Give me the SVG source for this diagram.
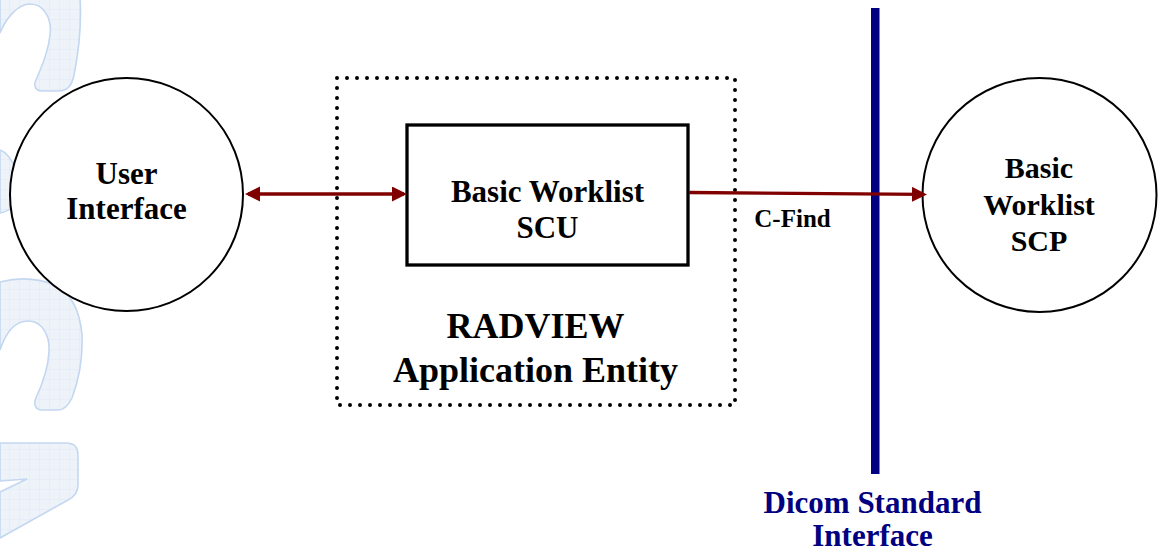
<svg xmlns="http://www.w3.org/2000/svg" width="1158" height="553" viewBox="0 0 1158 553" font-family="Liberation Serif, DejaVu Serif, serif">
  <defs>
    <style>
      .wm { fill: url(#grid); stroke: #C3D7F0; stroke-width: 1.6; }
      .node { fill: #FFFFFF; stroke: #000000; stroke-width: 2; }
      .box { fill: #FFFFFF; stroke: #000000; stroke-width: 3.3; }
      text { font-family: 'Liberation Serif', 'DejaVu Serif', serif; font-weight: 700; text-anchor: middle; }
      .blue { fill: #000080; }
      .conn { stroke: #800000; stroke-width: 3.3; fill: none; }
    </style>
    <pattern id="grid" patternUnits="userSpaceOnUse" width="10" height="10">
      <rect width="10" height="10" fill="#EEF3FA"/>
      <path d="M10,0 L10,10 M0,10 L10,10" stroke="#DCE6F4" stroke-width="0.7" fill="none"/>
    </pattern>
    <marker id="arr" markerUnits="userSpaceOnUse" markerWidth="16" markerHeight="16" refX="12" refY="7.5" orient="auto-start-reverse">
      <path d="M0,0 L15,7.5 L0,15 Z" fill="#800000"/>
    </marker>
  </defs>

  <rect width="1158" height="553" fill="#FFFFFF"/>

  <g id="watermark">
    <path class="wm" d="M0,-2 L80,-2 C82,30 78,55 74,75 C72,85 68,91 58,91 L42,91 C36,91 33,86 36,80 C40,70 48,55 50,35 C52,20 45,4 30,4 C18,4 6,18 0,33 Z"/>
    <path class="wm" d="M0,150 C6,152 12,160 16,170 L16,205 C10,210 5,212 0,213 Z"/>
    <path class="wm" d="M0,282 C15,278 35,277 55,285 C70,292 80,310 82,335 C83,360 78,382 72,398 C68,406 64,410 58,410 L42,410 C36,410 33,405 36,398 C42,385 48,370 49,352 C50,335 42,321 28,321 C15,321 6,332 0,350 Z"/>
    <path class="wm" d="M0,443 L66,443 Q78,443 78,455 L78,485 Q78,495 68,500 L0,538 L0,492 L27,479 L0,481 Z"/>
  </g>

  <g id="dicom-interface">
    <rect x="871" y="8" width="8.5" height="466" class="blue"/>
    <text x="872.5" y="513" font-size="31" fill="#000080">Dicom Standard</text>
    <text x="872.5" y="546" font-size="31" fill="#000080">Interface</text>
  </g>

  <g id="application-entity">
    <rect x="337" y="78" width="398" height="327" fill="none" stroke="#000000" stroke-width="4" stroke-dasharray="0 10" stroke-linecap="round"/>
    <text x="535.5" y="338" font-size="36">RADVIEW</text>
    <text x="535.5" y="382" font-size="36">Application Entity</text>
  </g>

  <g id="user-interface">
    <circle cx="126.5" cy="194.5" r="116.5" class="node"/>
    <text x="126.5" y="184" font-size="31">User</text>
    <text x="126.5" y="219" font-size="31">Interface</text>
  </g>

  <g id="worklist-scu">
    <rect x="407" y="125" width="281" height="140" class="box"/>
    <text x="547.5" y="202" font-size="31">Basic Worklist</text>
    <text x="547.5" y="238" font-size="31">SCU</text>
  </g>

  <g id="worklist-scp">
    <circle cx="1039.5" cy="195" r="117" class="node"/>
    <text x="1039" y="178" font-size="30">Basic</text>
    <text x="1039" y="215" font-size="30">Worklist</text>
    <text x="1039" y="251" font-size="30">SCP</text>
  </g>

  <g id="connectors">
    <line class="conn" x1="248" y1="194" x2="404" y2="194" marker-start="url(#arr)" marker-end="url(#arr)"/>
    <line class="conn" x1="689" y1="192.5" x2="924" y2="194.4" marker-end="url(#arr)"/>
    <text x="792.5" y="227" font-size="25">C-Find</text>
  </g>
</svg>
